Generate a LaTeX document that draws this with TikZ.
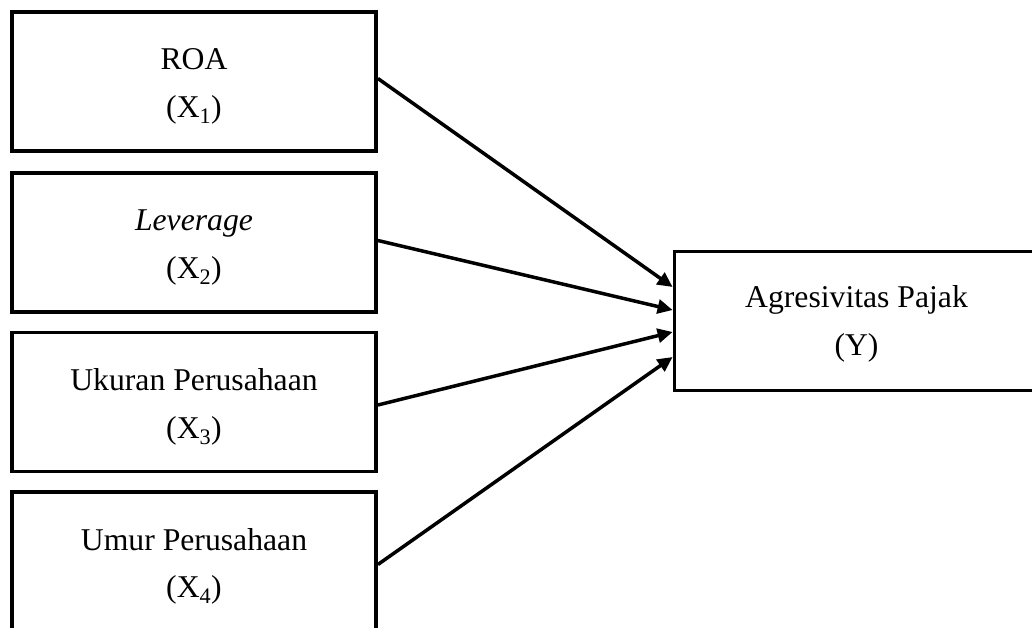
\documentclass[tikz,border=0pt]{standalone}
\usepackage{fontspec}
\setmainfont{Liberation Serif}
\usetikzlibrary{arrows.meta,calc}
\begin{document}
\begin{tikzpicture}[x=1pt,y=-1pt,
  box/.style={draw=black,line width=3.8pt,minimum width=364pt,minimum height=139pt,
    inner sep=0pt},
  txt/.style={align=center,inner sep=0pt,yshift=-5pt,font=\fontsize{31.7}{47.5}\selectfont},
  link/.style={line width=3.5pt,-{Triangle[length=15pt,width=14pt]}}]
\useasboundingbox (0,0) rectangle (1032,627);
\clip (0,0) rectangle (1032,627);
\fill[white] (0,0) rectangle (1032,627);
\node[box,label={[txt]center:{ROA\\(X\textsubscript{1})}}] (x1) at (194,81.5) {};
\node[box,label={[txt]center:{\textit{Leverage}\\(X\textsubscript{2})}}] (x2) at (194,242.5) {};
\node[box,label={[txt]center:{Ukuran Perusahaan\\(X\textsubscript{3})}}] (x3) at (194,402) {};
\node[box,label={[txt]center:{Umur Perusahaan\\(X\textsubscript{4})}}] (x4) at (194,561.5) {};
\node[box,label={[txt,yshift=2pt]center:{Agresivitas Pajak\\(Y)}}] (y) at (856.5,321) {};
\coordinate (e1) at ($(y.west)+(0,-34)$);
\coordinate (e2) at ($(y.west)+(0,-11)$);
\coordinate (e3) at ($(y.west)+(0,11)$);
\coordinate (e4) at ($(y.west)+(0,36)$);
\draw[link] ($(x1.east)+(0,-3)$) -- (e1);
\draw[link] ($(x2.east)+(0,-2)$) -- (e2);
\draw[link] ($(x3.east)+(0,3)$) -- (e3);
\draw[link] ($(x4.east)+(0,3)$) -- (e4);
\end{tikzpicture}
\end{document}
